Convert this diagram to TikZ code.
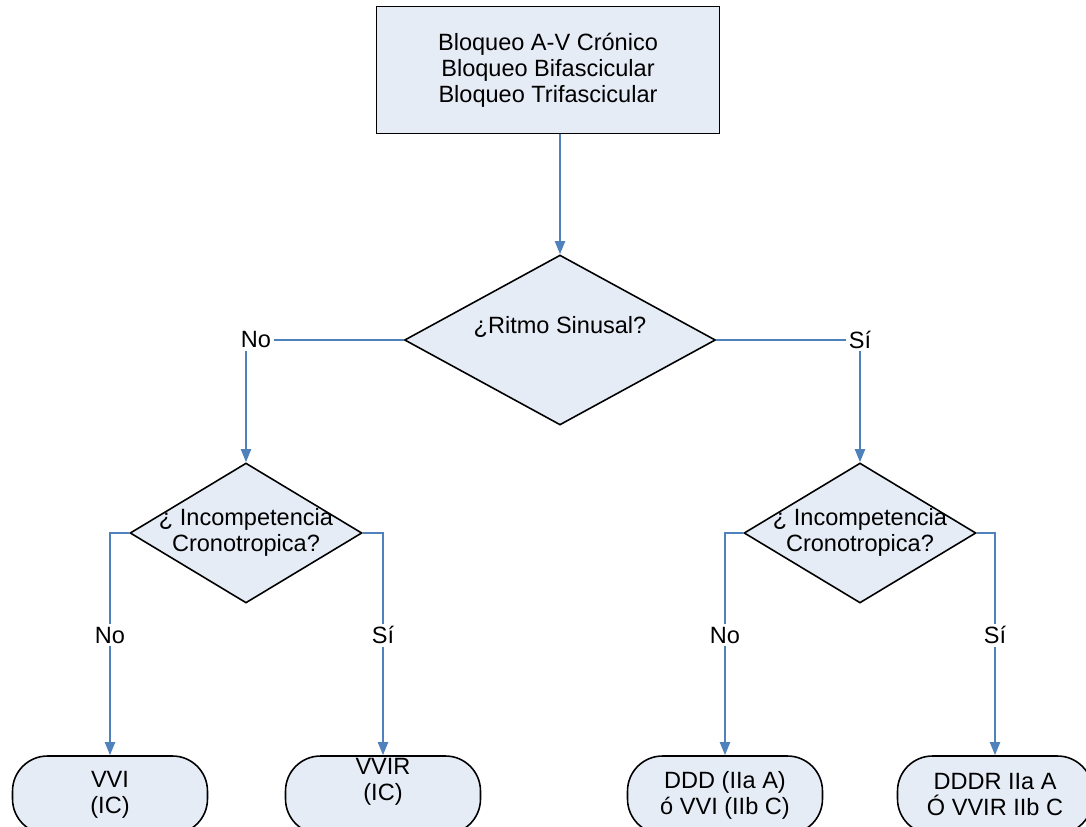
\documentclass[tikz,border=0pt]{standalone}
\usepackage{fontspec}
\setmainfont{Liberation Sans}
\usetikzlibrary{shapes.geometric,arrows.meta}

\definecolor{relleno}{RGB}{230,236,246}
\definecolor{linea}{RGB}{79,129,189}

\tikzset{
  caja/.style={rectangle, draw=black, line width=0.9pt, fill=relleno,
    minimum width=6.86cm, minimum height=2.54cm, align=center},
  decision/.style={diamond, draw=black, line width=0.9pt, fill=relleno, inner sep=0pt},
  final/.style={rectangle, rounded corners=0.7cm, draw=black, line width=0.9pt,
    fill=relleno, minimum width=3.9cm, minimum height=1.56cm, align=center},
  flujo/.style={draw=linea, line width=1.1pt, -{Triangle[length=2.6mm,width=2mm]}},
  rama/.style={fill=white, inner sep=1.5pt},
}
\newcommand{\dtexto}[1]{\makebox[0pt]{\begin{tabular}{@{}c@{}}#1\end{tabular}}}

\begin{document}
\begin{tikzpicture}[x=0.02cm, y=-0.02cm, font=\fontsize{13.4}{14.8}\selectfont]
    \useasboundingbox (0,0) rectangle (1086,826);
    \clip (0,0) rectangle (1086,826);

    % Caja inicial y primera decision
    \node[caja] (inicio) at (548,70) {Bloqueo A-V Crónico\\Bloqueo Bifascicular\\Bloqueo Trifascicular};
    \node[decision, minimum width=6.22cm, minimum height=3.4cm] (ritmo) at (560,340)
        {\smash{\makebox[0pt]{\raisebox{0.14cm}{¿Ritmo Sinusal?}}}};

    % Incompetencia cronotropica
    \node[decision, minimum width=4.64cm, minimum height=2.8cm] (inc1) at (246,533)
        {\dtexto{¿ Incompetencia\\Cronotropica?}};
    \node[decision, minimum width=4.64cm, minimum height=2.8cm] (inc2) at (860,533)
        {\dtexto{¿ Incompetencia\\Cronotropica?}};

    % Modos de estimulacion
    \node[final] (vvi) at (110,795) {VVI\\(IC)};
    \node[final] (vvir) at (383,795) {\raisebox{0.24cm}{\smash{\dtexto{VVIR\\(IC)}}}};
    \node[final] (ddd) at (725,795) {DDD (IIa A)\\ó VVI (IIb C)};
    \node[final] (dddr) at (995,795) {DDDR IIa A\\Ó VVIR IIb C};

    % Conectores
    \draw[flujo] (inicio.south -| ritmo.north) -- (ritmo.north);
    \draw[flujo] (ritmo.west) -| node[rama, xshift=0.2cm] {No} (inc1.north);
    \draw[flujo] (ritmo.east) -| node[rama] {Sí} (inc2.north);
    \draw[flujo] (inc1.west) -| node[rama, pos=0.73] {No} (vvi.north);
    \draw[flujo] (inc1.east) -| node[rama, pos=0.73] {Sí} (vvir.north);
    \draw[flujo] (inc2.west) -| node[rama, pos=0.73] {No} (ddd.north);
    \draw[flujo] (inc2.east) -| node[rama, pos=0.73] {Sí} (dddr.north);
\end{tikzpicture}
\end{document}
